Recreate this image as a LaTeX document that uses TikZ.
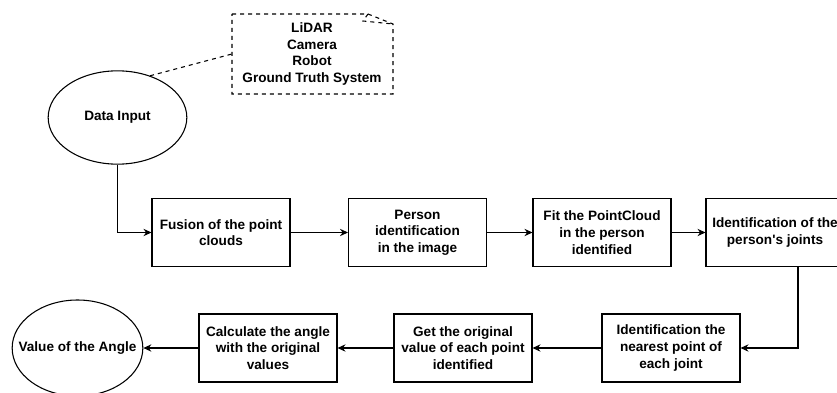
\documentclass[tikz,border=0pt]{standalone}
\usepackage{fontspec}
\setmainfont{Liberation Sans}
\usepackage{tikz}
\usetikzlibrary{
  arrows.meta,
  positioning,
  shapes.geometric,
  calc
}

\begin{document}
\begin{tikzpicture}[
  x=0.75pt, y=-0.75pt,
  stepbox/.style={draw, thick, minimum width=103.5pt, minimum height=51pt, align=center, inner sep=2pt, font=\fontsize{10.2}{12.5}\selectfont\bfseries},
  term/.style={draw, ellipse, thick, minimum width=#1, inner sep=0pt, align=center, font=\fontsize{10.2}{12.5}\selectfont\bfseries},
  note/.style={align=center, font=\fontsize{10.2}{12.5}\selectfont\bfseries},
  arrow/.style={-{Stealth[length=6pt, width=5.5pt, inset=2pt]}, thick},
  link/.style={thick, dashed}
]
  \useasboundingbox (0,0) rectangle (837,392);

  % Input
  \node[term=104pt, minimum height=70pt] (input) at (117.5,117.5) {\makebox[0pt]{Data Input}};

  % Sources note
  \node[note] (src) at (312,54) {LiDAR\\Camera\\Robot\\Ground Truth System};
  \draw[link] (232,14) -- (368,14) -- (393,24) -- (393,94) -- (232,94) -- cycle;
  \draw[link] (368,14) -- (363,21) -- (393,24);
  \coordinate (srcleft) at (232,54);
  \draw[link] (input.52) -- (srcleft);

  % Top row
  \node[stepbox] (fusion) at (221,232.5) {Fusion of the point\\clouds};
  \node[stepbox] (person) at (417.5,232.5) {Person\\identification\\in the image};
  \node[stepbox] (fit) at (602,232.5) {Fit the PointCloud\\in the person\\identified};
  \node[stepbox] (joints) at (775,232.5) {Identification of the\\person\textquotesingle s joints};

  % Bottom row
  \node[stepbox] (nearest) at (671,348) {Identification the\\nearest point of\\each joint};
  \node[stepbox] (orig) at (463,348) {Get the original\\value of each point\\identified};
  \node[stepbox] (calc) at (268,348) {Calculate the angle\\with the original\\values};

  % Output
  \node[term=98pt, minimum height=72pt] (angle) at (77.5,348) {\makebox[0pt]{Value of the Angle}};

  % Arrows
  \draw[arrow] (input.south) |- (fusion.west);
  \draw[arrow] (fusion) -- (person);
  \draw[arrow] (person) -- (fit);
  \draw[arrow] (fit) -- (joints);
  \draw[arrow] ([xshift=17.25pt]joints.south) |- (nearest.east);
  \draw[arrow] (nearest) -- (orig);
  \draw[arrow] (orig) -- (calc);
  \draw[arrow] (calc) -- (angle);
\end{tikzpicture}
\end{document}
